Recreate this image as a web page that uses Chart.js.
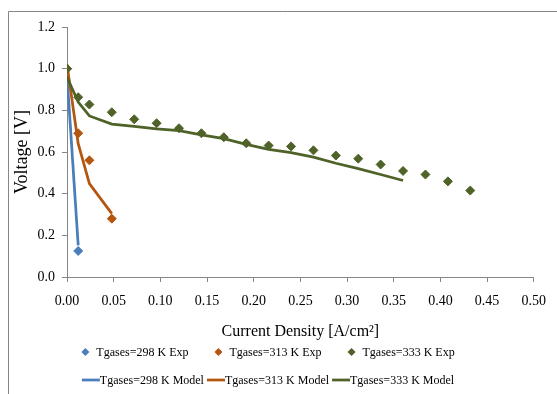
<!DOCTYPE html>
<html>
<head>
<meta charset="utf-8">
<script src="https://cdn.jsdelivr.net/npm/chart.js@4.4.0/dist/chart.umd.min.js"></script>
<style>
  html, body { margin: 0; padding: 0; background: #fff; }
  #wrap { width: 557px; height: 394px; position: relative; }
</style>
</head>
<body>
<div id="wrap"><canvas id="chart"></canvas></div>
<script>
// current density [A/cm2]
const xGreen = [0, 0.012, 0.024, 0.048, 0.072, 0.096, 0.12, 0.144, 0.168, 0.192, 0.216, 0.24, 0.264, 0.288, 0.312, 0.336, 0.36, 0.384, 0.408, 0.432];
const xOrange = [0, 0.012, 0.024, 0.048];
const xBlue = [0, 0.012];

// voltage [V]
const greenExp = [1.0, 0.863, 0.828, 0.791, 0.757, 0.738, 0.714, 0.690, 0.671, 0.642, 0.631, 0.627, 0.608, 0.583, 0.568, 0.540, 0.509, 0.492, 0.459, 0.415];
const greenModel = [0.96, 0.84, 0.773, 0.734, 0.723, 0.711, 0.703, 0.682, 0.664, 0.637, 0.613, 0.597, 0.575, 0.546, 0.520, 0.492, 0.463];
const orangeExp = [1.0, 0.69, 0.56, 0.28];
const orangeModel = [1.02, 0.64, 0.448, 0.304];
const blueExp = [1.0, 0.125];
const blueModel = [0.97, 0.152];

const labels = ['Tgases=298 K Exp', 'Tgases=313 K Exp', 'Tgases=333 K Exp',
                'Tgases=298 K Model', 'Tgases=313 K Model', 'Tgases=333 K Model'];

const BLUE = '#4a7ebb';
const ORANGE = '#b4560f';
const GREEN = '#4f6228';
const AXIS = '#868686';
const FONT = "'Liberation Serif', 'Times New Roman', serif";

function pts(xs, ys) {
    return ys.map((y, i) => ({ x: xs[i], y: y }));
}

function expSet(label, xs, ys, color) {
    return {
        label: label, data: pts(xs, ys), showLine: false,
        pointStyle: 'rectRot', pointRadius: 4.5, pointHoverRadius: 4.5,
        backgroundColor: color, borderColor: color, borderWidth: 1
    };
}

function modelSet(label, xs, ys, color) {
    return {
        label: label, data: pts(xs, ys), showLine: true,
        pointRadius: 0, pointHoverRadius: 0,
        borderColor: color, backgroundColor: color, borderWidth: 2.75,
        tension: 0
    };
}

// custom two-row legend, like the Excel one
const legendPlugin = {
    id: 'twoRowLegend',
    afterDraw(chart) {
        const ctx = chart.ctx;
        const byLabel = {};
        chart.data.datasets.forEach(ds => { byLabel[ds.label] = ds; });
        const rows = [labels.slice(0, 3), labels.slice(3)];
        const rowY = [352, 380];
        ctx.save();
        ctx.font = '12px ' + FONT;
        ctx.textBaseline = 'middle';
        rows.forEach((row, r) => {
            const isPoint = r === 0;
            const markW = isPoint ? 8 : 18;
            const markGap = isPoint ? 7 : 0;
            const gap = isPoint ? 26 : 3;
            const widths = row.map(l => markW + markGap + ctx.measureText(l).width);
            const total = widths.reduce((a, b) => a + b, 0) + gap * (row.length - 1);
            let x = 268 - total / 2;
            const y = rowY[r];
            row.forEach((l, i) => {
                const ds = byLabel[l];
                if (isPoint) {
                    ctx.fillStyle = ds.borderColor;
                    ctx.beginPath();
                    ctx.moveTo(x + 4, y - 4);
                    ctx.lineTo(x + 8, y);
                    ctx.lineTo(x + 4, y + 4);
                    ctx.lineTo(x, y);
                    ctx.closePath();
                    ctx.fill();
                } else {
                    ctx.strokeStyle = ds.borderColor;
                    ctx.lineWidth = 2.75;
                    ctx.beginPath();
                    ctx.moveTo(x, y);
                    ctx.lineTo(x + markW, y);
                    ctx.stroke();
                }
                ctx.fillStyle = '#000';
                ctx.fillText(l, x + markW + markGap, y + 1);
                x += widths[i] + gap;
            });
        });
        ctx.restore();
    }
};

// grey chart frame (left and top edges only are visible)
const framePlugin = {
    id: 'frame',
    beforeDraw(chart) {
        const ctx = chart.ctx;
        ctx.save();
        ctx.strokeStyle = AXIS;
        ctx.lineWidth = 1;
        ctx.beginPath();
        ctx.moveTo(8.5, 394);
        ctx.lineTo(8.5, 11.5);
        ctx.lineTo(557, 11.5);
        ctx.stroke();
        ctx.restore();
    }
};

new Chart(document.getElementById('chart'), {
    type: 'scatter',
    data: {
        datasets: [
            expSet(labels[2], xGreen, greenExp, GREEN),
            expSet(labels[1], xOrange, orangeExp, ORANGE),
            expSet(labels[0], xBlue, blueExp, BLUE),
            modelSet(labels[5], xGreen, greenModel, GREEN),
            modelSet(labels[4], xOrange, orangeModel, ORANGE),
            modelSet(labels[3], xBlue, blueModel, BLUE)
        ]
    },
    options: {
        responsive: true,
        maintainAspectRatio: false,
        animation: false,
        layout: { padding: { left: 0, top: 27, right: 20, bottom: 51 } },
        plugins: {
            legend: { display: false },
            tooltip: { enabled: false }
        },
        scales: {
            x: {
                type: 'linear',
                min: 0, max: 0.5,
                afterFit: s => { s.height = 66; },
                ticks: {
                    stepSize: 0.05,
                    color: '#000',
                    padding: 11,
                    font: { family: FONT, size: 14 },
                    maxRotation: 0,
                    callback: v => v.toFixed(2)
                },
                grid: { display: true, drawOnChartArea: false, drawTicks: true, tickLength: 5, color: AXIS },
                border: { display: true, color: AXIS, width: 1 },
                title: {
                    display: true,
                    text: 'Current Density [A/cm²]',
                    color: '#000',
                    font: { family: FONT, size: 16 },
                    padding: { top: 0, bottom: 2 }
                }
            },
            y: {
                type: 'linear',
                min: 0, max: 1.2,
                afterFit: s => { s.width = 67; },
                ticks: {
                    stepSize: 0.2,
                    color: '#000',
                    padding: 7,
                    font: { family: FONT, size: 14 },
                    callback: v => v.toFixed(1)
                },
                grid: { display: true, drawOnChartArea: false, drawTicks: true, tickLength: 5, color: AXIS },
                border: { display: true, color: AXIS, width: 1 },
                title: {
                    display: true,
                    text: 'Voltage [V]',
                    color: '#000',
                    font: { family: FONT, size: 18 },
                    padding: { top: 11, bottom: 0 }
                }
            }
        }
    },
    plugins: [framePlugin, legendPlugin]
});
</script>
</body>
</html>
